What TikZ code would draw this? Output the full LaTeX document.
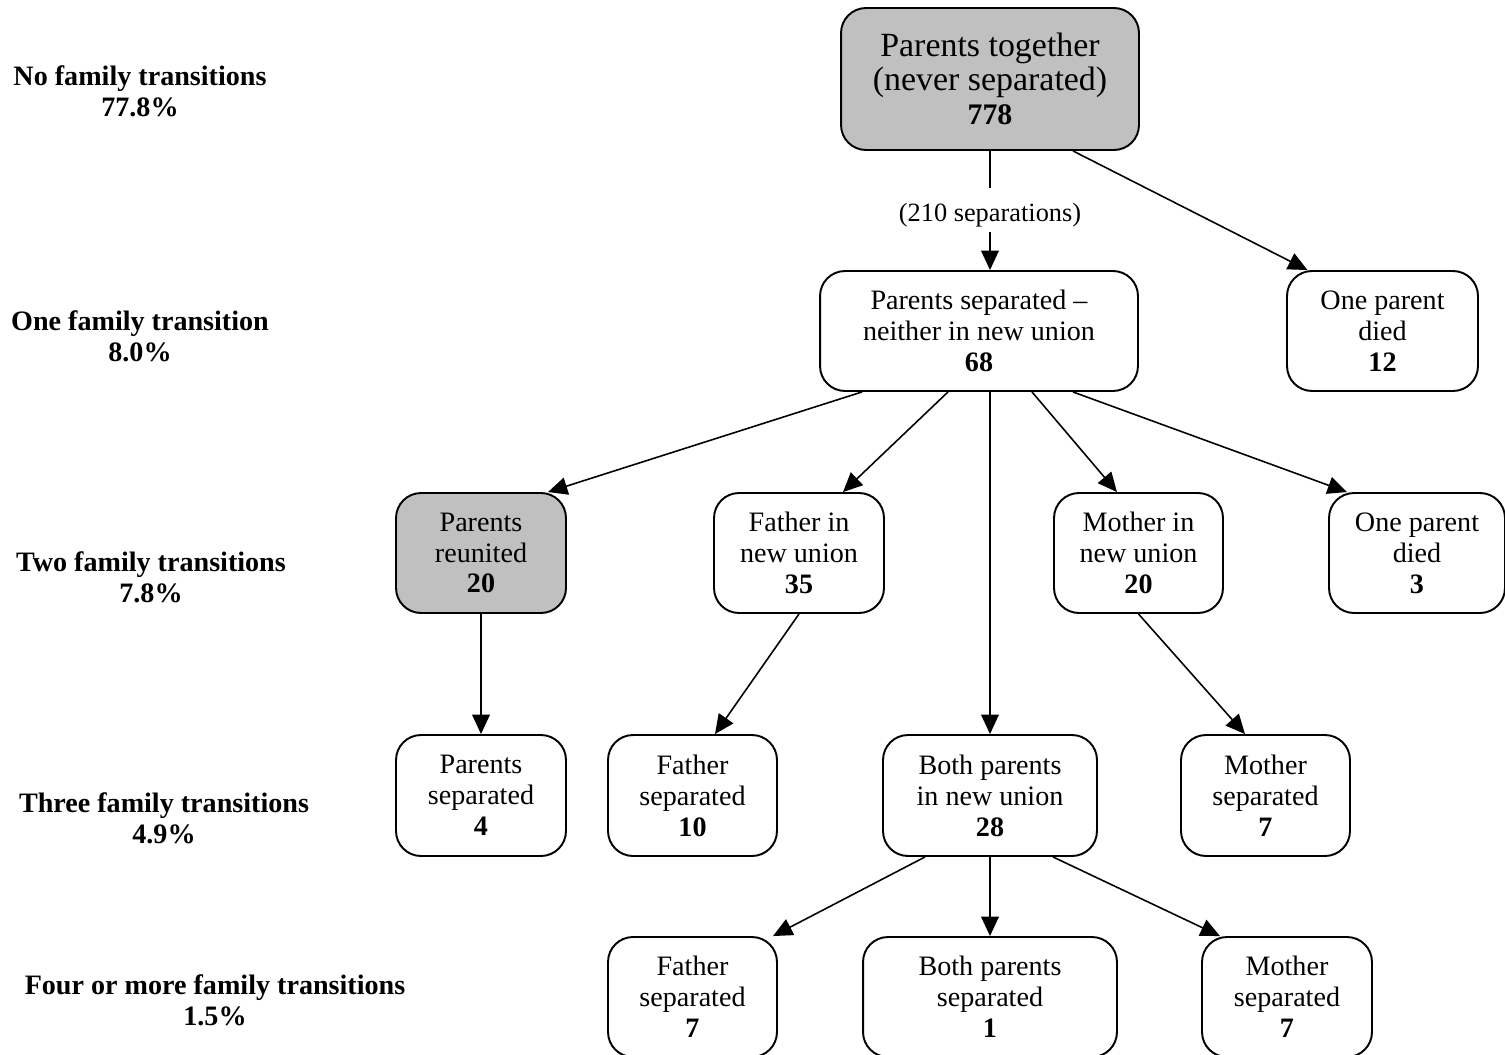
\documentclass[tikz,border=0pt]{standalone}
\usepackage{fontspec}
\setmainfont{Liberation Serif}
\usetikzlibrary{arrows.meta,calc}
\begin{document}
\begin{tikzpicture}[x=0.02cm,y=-0.02cm,
  box/.style={draw,line width=1.1pt,rounded corners=0.5cm,inner sep=0pt,align=center,
    font=\fontsize{16}{17.6}\selectfont},
  grey/.style={fill=boxgrey},
  lvl/.style={align=center,inner sep=0pt,font=\fontsize{16}{17.6}\selectfont\bfseries},
  arr/.style={line width=0.9pt,-{Triangle[length=11pt,width=10pt]}},
  ln/.style={line width=0.9pt}]
\definecolor{boxgrey}{HTML}{C0C0C0}
\useasboundingbox (0,0) rectangle (1505,1055);
% level labels
\node[lvl] (l0) at (140,91) {No family transitions\\77.8\%};
\node[lvl] (l1) at (140,336) {One family transition\\8.0\%};
\node[lvl] (l2) at (151,577) {Two family transitions\\7.8\%};
\node[lvl] (l3) at (164,818) {Three family transitions\\4.9\%};
\node[lvl] (l4) at (215,1000) {Four or more family transitions\\1.5\%};
% boxes
\node[box,grey,minimum width=5.96cm,minimum height=2.84cm,font=\fontsize{19.3}{19.5}\selectfont] (top) at (990,79)
  {Parents together\\(never separated)\\{\fontsize{17}{19.5}\selectfont\bfseries 778}};
\node[inner sep=0pt,minimum height=0.88cm,
  label={[inner sep=0pt,yshift=-0.11cm,font=\fontsize{15}{16}\selectfont]center:(210 separations)}] (lab) at (990,210) {};
\node[box,minimum width=6.36cm,minimum height=2.4cm] (sep) at (979,331)
  {Parents separated –\\neither in new union\\\textbf{68}};
\node[box,minimum width=3.82cm,minimum height=2.4cm] (die1) at (1382.5,331)
  {One parent\\died\\\textbf{12}};
\node[box,grey,minimum width=3.4cm,minimum height=2.4cm] (reun) at (481,553)
  {Parents\\reunited\\\textbf{20}};
\node[box,minimum width=3.4cm,minimum height=2.4cm] (fnu) at (799,553)
  {Father in\\new union\\\textbf{35}};
\node[box,minimum width=3.38cm,minimum height=2.4cm] (mnu) at (1138.5,553)
  {Mother in\\new union\\\textbf{20}};
\node[box,minimum width=3.52cm,minimum height=2.4cm] (die2) at (1417,553)
  {One parent\\died\\\textbf{3}};
\node[box,minimum width=3.4cm,minimum height=2.42cm] (psep) at (481,795.5)
  {Parents\\separated\\\textbf{4}};
\node[box,minimum width=3.38cm,minimum height=2.42cm] (fsep) at (692.5,795.5)
  {Father\\separated\\\textbf{10}};
\node[box,minimum width=4.28cm,minimum height=2.42cm] (bnu) at (990,795.5)
  {Both parents\\in new union\\\textbf{28}};
\node[box,minimum width=3.38cm,minimum height=2.42cm] (msep) at (1265.5,795.5)
  {Mother\\separated\\\textbf{7}};
\node[box,minimum width=3.38cm,minimum height=2.4cm] (fsep2) at (692.5,997)
  {Father\\separated\\\textbf{7}};
\node[box,minimum width=5.08cm,minimum height=2.4cm] (bsep2) at (990,997)
  {Both parents\\separated\\\textbf{1}};
\node[box,minimum width=3.4cm,minimum height=2.4cm] (msep2) at (1287,997)
  {Mother\\separated\\\textbf{7}};
% connectors
\draw[ln] (top.south) -- (lab.north);
\draw[arr] (lab.south) -- (lab.south |- sep.north);
\draw[arr] ($(top.south)+(83,0)$) -- ($(die1.north)+(-75,0)$);
\draw[arr] ($(sep.south)+(-117,0)$) -- ($(reun.north)+(67,0)$);
\draw[arr] ($(sep.south)+(-31,0)$) -- ($(fnu.north)+(44,0)$);
\draw[arr] (bnu.north |- sep.south) -- (bnu.north);
\draw[arr] ($(sep.south)+(53,0)$) -- ($(mnu.north)+(-21.5,0)$);
\draw[arr] ($(sep.south)+(94,0)$) -- ($(die2.north)+(-70,0)$);
\draw[arr] (reun.south) -- (psep.north);
\draw[arr] (fnu.south) -- ($(fsep.north)+(22.5,0)$);
\draw[arr] (mnu.south) -- ($(msep.north)+(-20.5,0)$);
\draw[arr] ($(bnu.south)+(-65,0)$) -- ($(fsep2.north)+(80.5,0)$);
\draw[arr] (bnu.south) -- (bsep2.north);
\draw[arr] ($(bnu.south)+(63,0)$) -- ($(msep2.north)+(-67,0)$);
\end{tikzpicture}
\end{document}
